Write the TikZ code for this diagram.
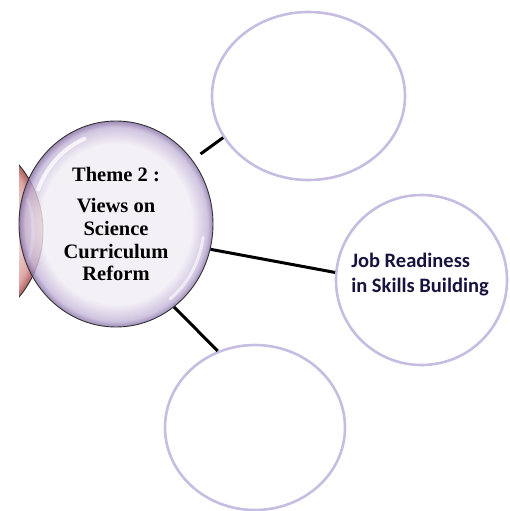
\documentclass[tikz,border=0pt]{standalone}
\usepackage{fontspec}
\setmainfont{Liberation Serif}
\newfontfamily\labelfont{Carlito}
\usetikzlibrary{shapes.geometric}

\definecolor{lavline}{RGB}{198,189,225}
\definecolor{lavlight}{RGB}{240,236,244}
\definecolor{lavmid}{RGB}{196,182,216}
\definecolor{lavdark}{RGB}{132,110,164}
\definecolor{roselight}{RGB}{246,228,228}
\definecolor{rosemid}{RGB}{222,165,165}
\definecolor{rosedark}{RGB}{172,92,92}
\definecolor{navytext}{RGB}{22,20,62}

\pgfdeclareradialshading{lavsphere}{\pgfpointorigin}{color(0bp)=(lavlight); color(19.5bp)=(lavlight); color(23.5bp)=(lavmid); color(25bp)=(lavdark); color(50bp)=(lavdark)}
\pgfdeclareradialshading{rosesphere}{\pgfpointorigin}{color(0bp)=(roselight); color(18bp)=(roselight); color(23bp)=(rosemid); color(25bp)=(rosedark); color(50bp)=(rosedark)}

\begin{document}
\begin{tikzpicture}[x=1pt, y=-1pt,
    bubble/.style = {ellipse, draw=lavline, line width=2.6pt, inner sep=0pt},
    sphere/.style = {ellipse, draw=black!80, line width=0.9pt, inner sep=0pt},
    link/.style = {line width=3pt, black}]
  \useasboundingbox (0,0) rectangle (509,511);

  % theme on the left, cut by the page edge
  \begin{scope}
    \clip (19,0) rectangle (509,511);
    \node [sphere, shading=rosesphere, minimum width=206pt, minimum height=206pt] (prevtheme) at (-60,231) {};
    \draw [white, opacity=0.7, line width=3pt, line cap=round]
          (prevtheme.center) ++(-20:93pt) arc [start angle=-20, end angle=20, radius=93pt];
  \end{scope}

  \node [sphere, shading=lavsphere, fill opacity=0.8, text opacity=1,
         minimum width=194pt, minimum height=206pt, align=center,
         font=\fontsize{20.5}{22.7}\selectfont\bfseries] (theme) at (116,224)
        {Theme 2 :\\[9pt] Views on\\ Science\\ Curriculum\\ Reform};
  % glints
  \draw [white, opacity=0.75, line width=4pt, line cap=round]
        (theme.center) ++(112:84pt and 92pt) arc [start angle=112, end angle=158, x radius=84pt, y radius=92pt];
  \draw [white, opacity=0.6, line width=3pt, line cap=round]
        (theme.center) ++(-8:88pt and 95pt) arc [start angle=-8, end angle=-52, x radius=88pt, y radius=95pt];

  \node [bubble, minimum width=193pt, minimum height=168pt] (topidea) at (308.5,96) {};
  \node [bubble, minimum width=171pt, minimum height=170pt] (jobs) at (421.5,280) {};
  \node [bubble, minimum width=180pt, minimum height=165pt] (lowidea) at (255,427.5) {};
  \node [align=left, text=navytext, font=\labelfont\bfseries\fontsize{20.5}{25}\selectfont] (jobstext) at (420,275)
        {Job Readiness\\in Skills Building};

  \draw [link, shorten <=10pt] (theme.40) -- (topidea.206);
  \draw [link] (theme.-15) -- (jobs.175);
  \draw [link] (theme.-55) -- (lowidea.116);
\end{tikzpicture}
\end{document}
